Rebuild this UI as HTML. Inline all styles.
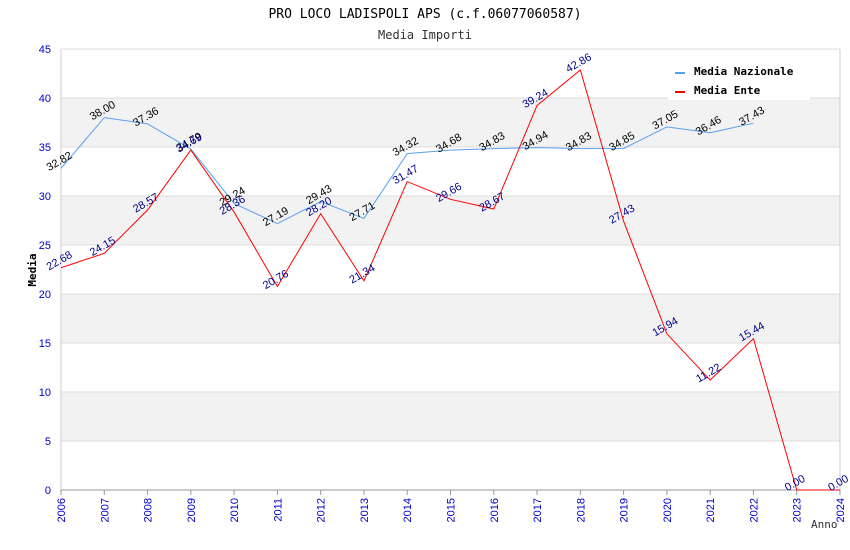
<!DOCTYPE html>
<html><head><meta charset="utf-8"><style>
body{margin:0;background:#fff;}
svg{display:block;font-family:"DejaVu Sans Mono","Liberation Mono",monospace;}
</style></head><body>
<svg id="chart" width="850" height="550">
<text x="425" y="18" text-anchor="middle" font-size="13" fill="#000">PRO LOCO LADISPOLI APS (c.f.06077060587)</text>
<text x="425" y="39" text-anchor="middle" font-size="12" fill="#333">Media Importi</text>
<g id="bands"></g><g id="axes"></g><g id="lines"></g><g id="labels"></g>
<g>
<rect x="668" y="60" width="142" height="40" fill="#fff"/>
<g><rect x="675" y="72" width="10" height="2" fill="#5aa0f0"/><text x="694" y="75" font-size="11" font-weight="bold">Media Nazionale</text></g>
<g><rect x="675" y="91" width="10" height="2" fill="#f00"/><text x="694" y="94" font-size="11" font-weight="bold">Media Ente</text></g>
</g>
<text x="36" y="270" transform="rotate(-90 36 270)" text-anchor="middle" font-size="11" font-weight="bold">Media</text>
<text x="811" y="528" font-size="11" fill="#333">Anno</text>
</svg>
<script>
const years=[2006,2007,2008,2009,2010,2011,2012,2013,2014,2015,2016,2017,2018,2019,2020,2021,2022,2023,2024];
const nazionale=[32.82,38.00,37.36,34.79,29.24,27.19,29.43,27.71,34.32,34.68,34.83,34.94,34.83,34.85,37.05,36.46,37.43];
const ente=[22.68,24.15,28.57,34.69,28.36,20.76,28.20,21.34,31.47,29.66,28.67,39.24,42.86,27.43,15.94,11.22,15.44,0.00,0.00];
const yTicks=[0,5,10,15,20,25,30,35,40,45];
const NS='http://www.w3.org/2000/svg';
const x0=61,x1=840,yb=490,yt=49;
const X=i=>x0+(x1-x0)*(years[i]-years[0])/(years[years.length-1]-years[0]);
const Y=v=>yb-(yb-yt)*v/45;
function mk(t,a,p){const e=document.createElementNS(NS,t);for(const k in a)e.setAttribute(k,a[k]);p.appendChild(e);return e;}
const bands=document.getElementById('bands'),axes=document.getElementById('axes'),lines=document.getElementById('lines'),labels=document.getElementById('labels');
for(let i=0;i<yTicks.length-1;i++){
 if(i%2===1){const r=mk('rect',{x:x0,y:Y(yTicks[i+1]),width:x1-x0,height:Y(yTicks[i])-Y(yTicks[i+1]),fill:'#f2f2f2'},bands);
 
 }
}
yTicks.forEach(v=>{
 const l=mk('line',{x1:x0,x2:x1,y1:Y(v),y2:Y(v),stroke:'#ddd'},axes);
 
 
 const t=mk('text',{x:x0-10,y:Y(v)+4,'text-anchor':'end','font-family':'Liberation Sans, sans-serif','font-size':11,fill:'#00c'},axes);t.textContent=v;
 
 
});
mk('line',{x1:x0,x2:x0,y1:yt,y2:yb,stroke:'#ccc'},axes);
mk('line',{x1:x1,x2:x1,y1:yt,y2:yb,stroke:'#ccc'},axes);
mk('line',{x1:x0,x2:x1,y1:yb,y2:yb,stroke:'#999'},axes);
years.forEach((yr,i)=>{
 const x=X(i);
 mk('line',{x1:x,x2:x,y1:yb,y2:yb+5,stroke:'#999'},axes);
 const t=mk('text',{x:x+4,y:yb+8,'text-anchor':'end','font-family':'Liberation Sans, sans-serif','font-size':11,fill:'#00c',transform:`rotate(-90 ${x+4} ${yb+8})`},axes);t.textContent=yr;
 
 
});
function series(vals,color,lblColor,name){
 const p=mk('polyline',{points:vals.map((v,i)=>X(i)+','+Y(v)).join(' '),fill:'none',stroke:color,'stroke-width':1},lines);
 
 
 vals.forEach((v,i)=>{
  const x=X(i),y=Y(v)-4;
  const t=mk('text',{x:x,y:y,'text-anchor':'middle','font-family':'Liberation Sans, sans-serif','font-size':11,fill:lblColor,transform:`rotate(-30 ${x} ${y})`},labels);
  t.textContent=v.toFixed(2);
  
  
 });
}
series(nazionale,'#5aa0f0','#000','nazionale');
series(ente,'#f00','#00008b','ente');
</script>
</body></html>
